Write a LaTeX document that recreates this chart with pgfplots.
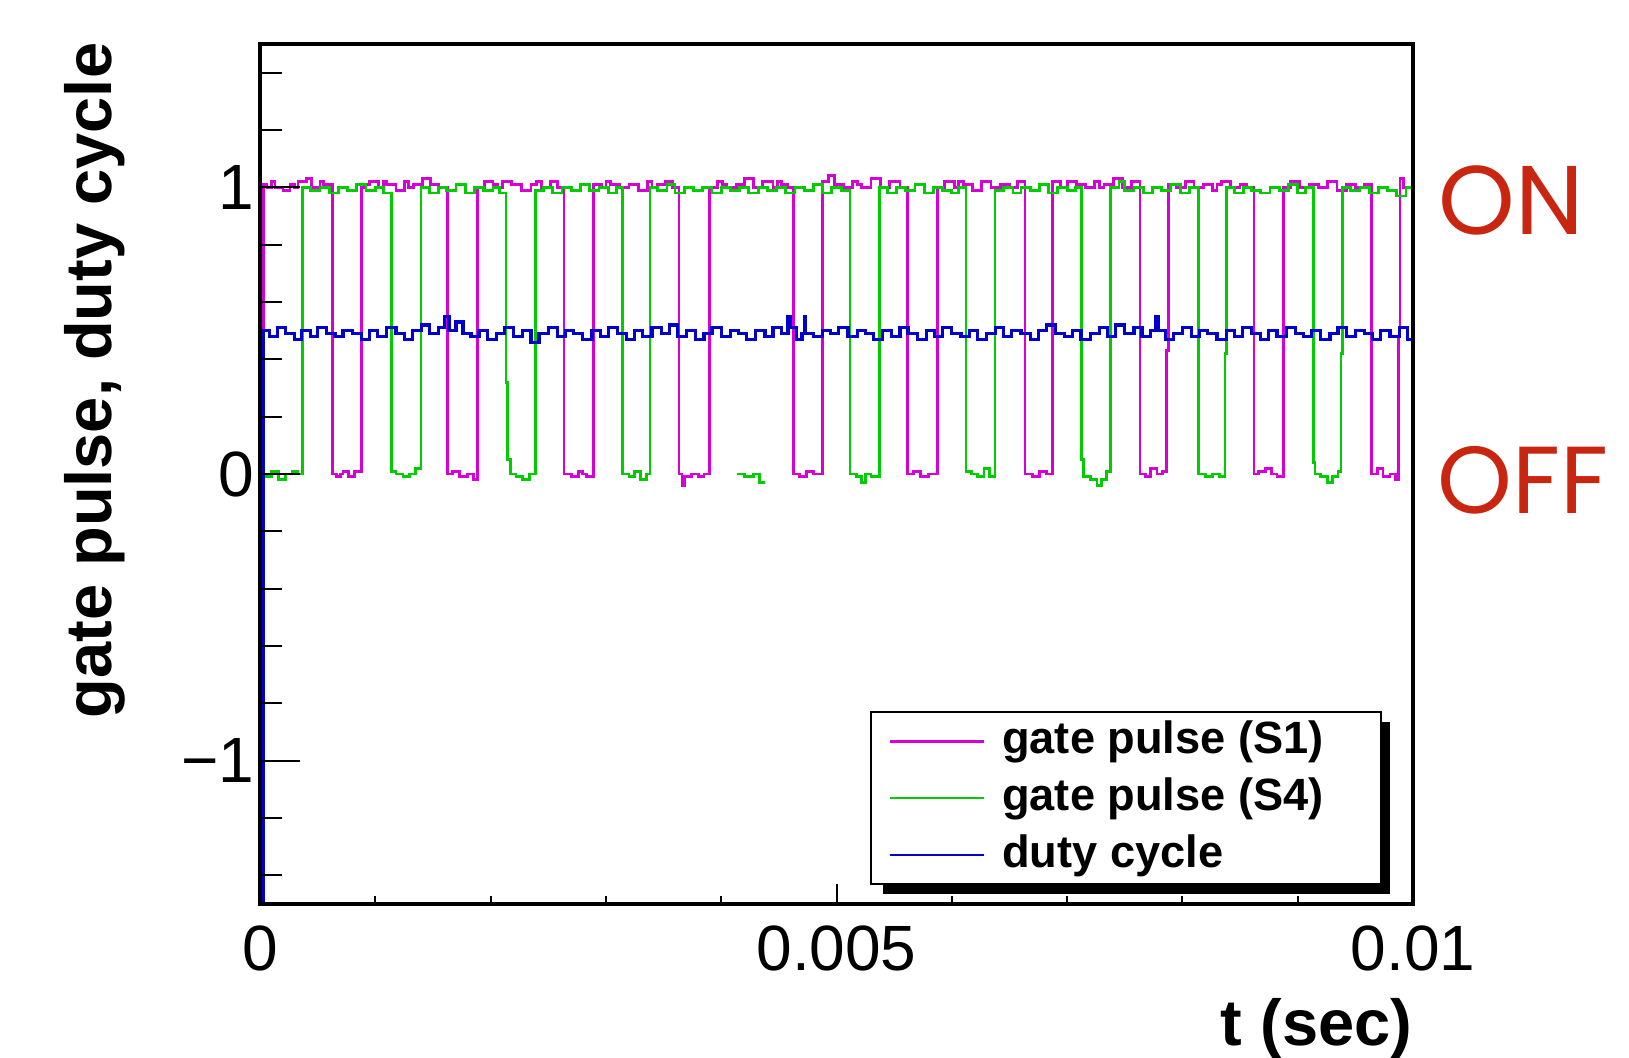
\documentclass[border=0pt]{standalone}
\usepackage{fontspec}
\setmainfont{Liberation Sans}
\newfontfamily\onfont{Poppins}
\usepackage{pgfplots}
\pgfplotsset{compat=1.18}
\definecolor{cmag}{RGB}{214,0,214}
\definecolor{cgreen}{RGB}{0,204,0}
\definecolor{cblue}{RGB}{0,0,204}
\definecolor{cred}{RGB}{200,38,16}
\begin{document}
\begin{tikzpicture}
\path[use as bounding box] (0,0) rectangle (407.25pt,264.5pt);
\begin{axis}[
  at={(65pt,38.5pt)}, anchor=south west,
  width=288.25pt, height=215pt, scale only axis,
  xmin=0, xmax=10, ymin=-1.5, ymax=1.5,
  axis line style={line width=1pt},
  axis on top,
  tick pos=left, tick align=inside,
  xtick={0,5,10}, xticklabels={0,0.005,0.01},
  minor xtick={1,2,3,4,6,7,8,9},
  ytick={-1,0,1}, yticklabels={−1,0,1},
  minor ytick={-1.4,-1.2,-0.8,-0.6,-0.4,-0.2,0.2,0.4,0.6,0.8,1.2,1.4},
  tick style={black, line width=0.5pt},
  xtick style={/pgfplots/major tick length=5pt, /pgfplots/minor tick length=2pt},
  ytick style={/pgfplots/major tick length=10pt, /pgfplots/minor tick length=5.5pt},
  ticklabel style={font=\fontsize{16}{16}\selectfont},
  xticklabel style={inner sep=0pt, yshift=-5.25pt},
  yticklabel style={inner sep=0pt, xshift=-1.25pt},
  xlabel={t (sec)}, ylabel={gate pulse, duty cycle},
  label style={font=\bfseries\fontsize{16.25}{18}\selectfont},
  xlabel style={at={(axis description cs:1,-0.164)}, anchor=base east, inner sep=0pt},
  ylabel style={at={(axis description cs:-0.1284,1.0023)}, anchor=base east, inner sep=0pt},
  legend style={at={(axis description cs:0.5447,0.2174)}, anchor=north west,
    draw=none, fill=none, inner sep=0pt, column sep=4.25pt, row sep=0pt,
    font=\bfseries\fontsize{11.3}{13}\selectfont,
    nodes={inner sep=0pt, text height=9pt, text depth=5.2pt}},
  legend cell align=left,
  legend image code/.code={\draw[#1, line width=0.6pt] (0pt,1.2pt) -- (23.5pt,1.2pt);},
]
\fill[black] (axis description cs:0.5403,0.0116) rectangle (axis description cs:0.9801,0.2116);
\filldraw[fill=white, draw=black, line width=0.5pt] (axis description cs:0.5299,0.0233) rectangle (axis description cs:0.9722,0.2233);

% gate pulse S1
\addplot[const plot, cmag, line width=0.7pt] coordinates {
(0.03,0.5) (0.03,1.01) (0.06,1.0) (0.1,1.02) (0.13,1.0) (0.2,0.99) (0.26,1.01) (0.3,1.0) (0.33,1.02) (0.4,1.03) (0.45,1.0) (0.52,1.02) (0.55,1.0) (0.58,1.01)
(0.631,0.0) (0.66,-0.01) (0.7,0.0) (0.72,0.01) (0.77,-0.01) (0.82,0.01)
(0.882,1.0) (0.92,1.01) (0.95,1.02) (1.03,1.0) (1.07,1.02) (1.1,1.01) (1.18,0.99) (1.25,1.02) (1.29,1.0) (1.33,1.01) (1.41,1.03) (1.48,1.01) (1.55,1.0)
(1.624,0.0) (1.67,0.01) (1.73,-0.01) (1.8,0.0) (1.85,-0.02)
(1.888,1.0) (1.95,1.02) (2.02,1.01) (2.06,1.0) (2.1,1.02) (2.18,1.01) (2.27,0.99) (2.35,1.01) (2.4,1.02) (2.44,1.0) (2.52,1.02) (2.58,1.0)
(2.637,0.0) (2.7,-0.01) (2.76,0.01) (2.8,0.0) (2.83,-0.01)
(2.891,1.01) (2.96,1.0) (3.0,1.02) (3.04,1.01) (3.12,1.0) (3.2,1.01) (3.28,0.99) (3.36,1.02) (3.4,1.0) (3.45,1.01) (3.52,1.02) (3.58,1.0)
(3.634,0.0) (3.66,-0.04) (3.68,-0.01) (3.74,0.0) (3.8,-0.01) (3.85,0.0)
(3.897,1.0) (3.97,1.02) (4.01,1.01) (4.05,1.0) (4.13,1.01) (4.2,1.03) (4.28,1.0) (4.36,1.02) (4.45,1.0) (4.49,1.02) (4.52,1.01) (4.58,1.0)
(4.625,0.0) (4.68,-0.01) (4.74,0.01) (4.8,0.0)
(4.880,1.02) (4.93,1.04) (4.98,1.01) (5.06,1.0) (5.14,1.02) (5.18,1.01) (5.22,1.0) (5.3,1.03) (5.38,1.0) (5.46,1.02) (5.55,1.0)
(5.618,0.0) (5.67,0.01) (5.73,-0.01) (5.8,0.0)
(5.874,1.0) (5.94,1.02) (6.02,1.0) (6.06,1.02) (6.1,1.01) (6.18,0.99) (6.26,1.02) (6.34,1.0) (6.42,1.01) (6.5,1.0) (6.57,1.02)
(6.635,0.0) (6.7,-0.01) (6.76,0.01) (6.82,0.0)
(6.875,1.02) (6.94,1.0) (7.0,1.02) (7.08,1.01) (7.16,1.0) (7.24,1.02) (7.28,1.0) (7.32,1.01) (7.4,1.03) (7.48,1.0) (7.56,1.02)
(7.632,0.0) (7.68,-0.01) (7.72,0.02) (7.78,0.0) (7.83,0.01) (7.865,0.43)
(7.878,1.01) (7.95,1.0) (8.03,1.02) (8.1,1.0) (8.18,1.01) (8.26,0.99) (8.3,1.01) (8.34,1.02) (8.42,1.0) (8.5,1.01) (8.56,1.0)
(8.621,0.0) (8.66,0.01) (8.72,0.02) (8.77,0.0) (8.82,-0.01)
(8.875,1.0) (8.94,1.02) (9.02,1.0) (9.1,1.01) (9.18,1.0) (9.26,1.02) (9.34,0.99) (9.42,1.01) (9.5,1.0) (9.58,1.01)
(9.642,0.0) (9.69,0.02) (9.74,-0.01) (9.8,0.0) (9.85,-0.02) (9.875,0.48)
(9.887,1.03) (9.92,1.0) (10,1.0)
};
\addlegendentry{gate pulse (S1)}

% gate pulse S4
\addplot[const plot, cgreen, line width=0.7pt] coordinates {
(0.03,0.0) (0.05,-0.01) (0.1,0.01) (0.16,-0.02) (0.22,0.0) (0.28,0.01) (0.33,0.0)
(0.367,1.0) (0.44,0.99) (0.52,1.0) (0.6,0.98) (0.68,1.0) (0.76,0.99) (0.84,1.01) (0.92,0.99) (1.0,1.0) (1.07,0.98)
(1.142,0.01) (1.18,0.0) (1.24,-0.01) (1.3,0.0) (1.35,0.02)
(1.396,1.0) (1.47,0.98) (1.55,1.0) (1.62,0.99) (1.7,1.01) (1.78,0.98) (1.86,1.0) (1.94,0.99) (2.02,1.0) (2.08,0.98)
(2.134,0.32) (2.15,0.05) (2.17,0.0) (2.22,-0.01) (2.28,-0.02) (2.34,0.0)
(2.391,0.99) (2.46,1.0) (2.54,0.98) (2.62,1.0) (2.7,0.99) (2.78,1.01) (2.86,0.99) (2.94,1.0) (3.02,0.98) (3.09,1.0)
(3.146,0.0) (3.2,-0.01) (3.25,0.01) (3.3,-0.02) (3.35,0.0)
(3.382,1.0) (3.45,0.99) (3.53,1.01) (3.6,0.98) (3.68,1.0) (3.76,0.99) (3.84,1.0) (3.92,0.98) (4.0,1.0) (4.08,0.99)
(4.16,1.0) (4.24,0.98) (4.32,1.0) (4.4,0.99) (4.48,1.0) (4.56,0.98) (4.64,1.0) (4.72,0.99) (4.8,1.01) (4.88,0.98) (4.96,1.0) (5.04,0.99)
(5.117,0.0) (5.17,-0.01) (5.22,-0.03) (5.25,0.0) (5.3,-0.01)
(5.371,1.0) (5.44,0.98) (5.52,1.0) (5.6,0.99) (5.68,1.01) (5.76,0.98) (5.84,1.0) (5.92,0.99) (6.0,0.98) (6.06,1.0)
(6.123,0.01) (6.17,0.0) (6.22,-0.01) (6.28,0.02) (6.33,-0.01)
(6.375,0.99) (6.45,1.0) (6.53,0.98) (6.6,1.0) (6.68,0.99) (6.76,1.01) (6.84,0.98) (6.92,1.0) (7.0,0.99) (7.07,1.0)
(7.127,0.05) (7.14,-0.01) (7.2,-0.02) (7.26,-0.04) (7.3,-0.02) (7.34,0.01)
(7.378,1.0) (7.45,1.02) (7.5,0.99) (7.58,1.0) (7.66,0.98) (7.74,1.0) (7.82,0.99) (7.9,1.01) (7.98,0.98) (8.06,1.0)
(8.138,0.0) (8.2,-0.01) (8.26,0.0) (8.32,-0.01) (8.37,0.42)
(8.384,1.0) (8.45,0.98) (8.53,1.0) (8.6,0.99) (8.68,0.98) (8.76,1.0) (8.84,0.99) (8.92,1.01) (9.0,0.98) (9.07,1.0)
(9.135,0.04) (9.15,0.0) (9.2,-0.01) (9.26,-0.03) (9.3,-0.01) (9.35,0.01) (9.375,0.42)
(9.39,1.0) (9.46,0.99) (9.54,1.0) (9.62,0.98) (9.7,1.0) (9.78,0.99) (9.86,0.97) (9.94,1.0) (10,1.0)
};
\addlegendentry{gate pulse (S4)}
\addplot[const plot, cgreen, line width=0.7pt, forget plot] coordinates {
(4.137,0.0) (4.2,-0.01) (4.28,0.0) (4.33,-0.03) (4.38,-0.03)
};

% duty cycle
\addplot[const plot, cblue, line width=0.8pt] coordinates {
(0.03,-1.6) (0.03,0.50) (0.08,0.48) (0.15,0.51) (0.22,0.49) (0.3,0.47) (0.36,0.50) (0.44,0.48) (0.5,0.51) (0.58,0.49)
(0.65,0.48) (0.72,0.50) (0.8,0.49) (0.88,0.47) (0.95,0.50) (1.02,0.48) (1.1,0.51) (1.18,0.49) (1.25,0.47) (1.32,0.50)
(1.4,0.52) (1.47,0.49) (1.55,0.51) (1.6,0.55) (1.64,0.50) (1.7,0.53) (1.76,0.49) (1.83,0.48) (1.9,0.50) (1.97,0.47)
(2.05,0.49) (2.12,0.51) (2.2,0.48) (2.28,0.50) (2.35,0.46) (2.42,0.49) (2.5,0.51) (2.58,0.48) (2.65,0.50) (2.72,0.49)
(2.8,0.47) (2.88,0.50) (2.95,0.48) (3.02,0.51) (3.1,0.49) (3.18,0.47) (3.25,0.50) (3.32,0.48) (3.4,0.51) (3.48,0.49)
(3.55,0.52) (3.62,0.48) (3.7,0.50) (3.78,0.47) (3.85,0.49) (3.92,0.51) (4.0,0.48) (4.08,0.50) (4.15,0.49) (4.22,0.47)
(4.3,0.50) (4.38,0.48) (4.45,0.51) (4.52,0.49) (4.58,0.55) (4.6,0.51) (4.65,0.47) (4.7,0.49) (4.72,0.55) (4.73,0.49)
(4.8,0.48) (4.88,0.50) (4.95,0.49) (5.02,0.51) (5.1,0.48) (5.18,0.50) (5.25,0.49) (5.32,0.47) (5.4,0.50) (5.48,0.48)
(5.55,0.51) (5.62,0.49) (5.7,0.47) (5.78,0.50) (5.85,0.48) (5.92,0.51) (6.0,0.49) (6.08,0.48) (6.15,0.50) (6.22,0.47)
(6.3,0.49) (6.38,0.51) (6.45,0.48) (6.52,0.50) (6.6,0.49) (6.68,0.47) (6.75,0.50) (6.82,0.52) (6.9,0.49) (6.98,0.48)
(7.05,0.50) (7.12,0.47) (7.2,0.49) (7.28,0.51) (7.35,0.48) (7.42,0.52) (7.5,0.49) (7.58,0.51) (7.65,0.48) (7.72,0.50)
(7.77,0.55) (7.79,0.50) (7.85,0.47) (7.92,0.49) (8.0,0.51) (8.08,0.48) (8.15,0.50) (8.22,0.49) (8.3,0.47) (8.38,0.50)
(8.45,0.48) (8.52,0.51) (8.6,0.49) (8.68,0.47) (8.75,0.50) (8.82,0.48) (8.9,0.51) (8.98,0.49) (9.05,0.48) (9.12,0.50)
(9.2,0.47) (9.28,0.49) (9.35,0.51) (9.42,0.48) (9.5,0.50) (9.58,0.49) (9.65,0.47) (9.72,0.50) (9.8,0.48) (9.88,0.51)
(9.95,0.47) (10,0.47)
};
\addlegendentry{duty cycle}
\end{axis}
\node[anchor=west, inner sep=0pt, text=cred, font=\onfont\fontsize{24.4}{26}\selectfont] at (359.5pt,214.5pt) {ON};
\node[anchor=west, inner sep=0pt, text=cred, font=\onfont\fontsize{23.8}{26}\selectfont] at (359.25pt,144.4pt) {OFF};
\end{tikzpicture}
\end{document}
